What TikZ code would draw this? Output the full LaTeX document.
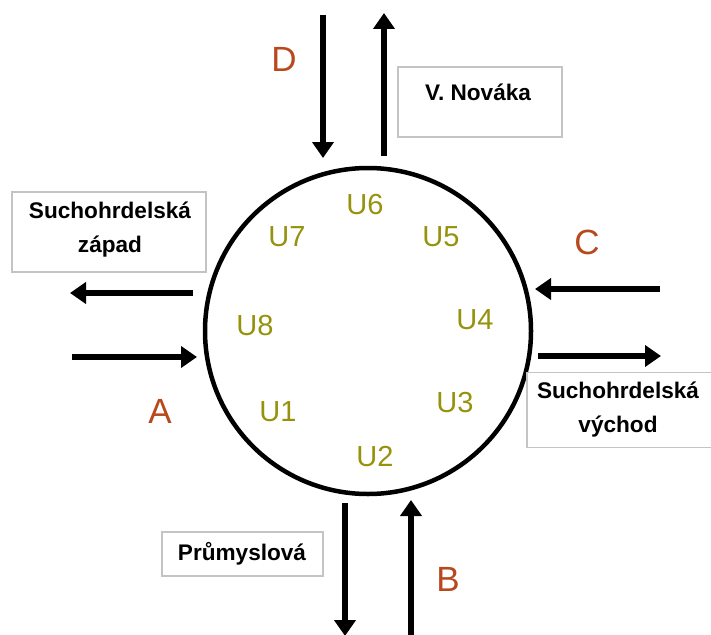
\documentclass[tikz,border=0pt]{standalone}
\usepackage{fontspec}
\setmainfont{Liberation Sans}
\usetikzlibrary{arrows.meta}
\definecolor{lettercol}{RGB}{184,72,30}
\definecolor{ucol}{RGB}{150,146,12}
\definecolor{boxcol}{RGB}{196,196,196}
\begin{document}
\begin{tikzpicture}[x=1pt,y=-1pt,
  arr/.style={line width=6.5pt,-{Triangle[width=21pt,length=16pt]}},
  box/.style={draw=boxcol,line width=1.3pt,inner sep=0pt,rectangle},
  lbl/.style={font=\bfseries\fontsize{22.6}{34}\selectfont,align=center,inner sep=0pt},
  uname/.style={text=ucol,font=\fontsize{29}{29}\selectfont,inner sep=0pt},
  letter/.style={text=lettercol,font=\fontsize{35}{35}\selectfont,inner sep=0pt}]
\useasboundingbox (0,0) rectangle (711,634);
% roundabout
\node[circle,draw,line width=4.5pt,minimum size=326pt,inner sep=0pt] (ring) at (368,331) {};
% U labels
\node[uname] (u6) at (365,205) {U6};
\node[uname] (u7) at (287,237) {U7};
\node[uname] (u5) at (441,237) {U5};
\node[uname] (u8) at (255,326) {U8};
\node[uname] (u4) at (475,320) {U4};
\node[uname] (u1) at (278,412) {U1};
\node[uname] (u3) at (455,403) {U3};
\node[uname] (u2) at (375,457) {U2};
% letters
\node[letter] (D) at (284,59) {D};
\node[letter] (C) at (587,242) {C};
\node[letter] (A) at (160,411) {A};
\node[letter] (B) at (448,579) {B};
% boxes
\node[box,minimum width=164pt,minimum height=70pt] (bN) at (480,102) {};
\node[lbl] (tN) at (478,92) {V. Nováka};
\node[box,minimum width=194pt,minimum height=80pt] (bZ) at (109,232) {};
\node[lbl] (tZ) at (110,230) {Suchohrdelská\\západ};
\node[box,minimum width=190pt,minimum height=75pt] (bV) at (622,410) {};
\node[lbl] (tV) at (618,410) {Suchohrdelská\\východ};
\node[box,minimum width=161pt,minimum height=44pt] (bP) at (242.5,554) {};
\node[lbl] (tP) at (242,554) {Průmyslová};
% arrow end points
\coordinate (d1) at (323,15);  \coordinate (d2) at (323,158);
\coordinate (n1) at (384,156); \coordinate (n2) at (384,13);
\coordinate (z1) at (193,293); \coordinate (z2) at (70,293);
\coordinate (a1) at (72,357);  \coordinate (a2) at (197,357);
\coordinate (c1) at (660,289); \coordinate (c2) at (535,289);
\coordinate (v1) at (538,356); \coordinate (v2) at (661,356);
\coordinate (p1) at (345,503); \coordinate (p2) at (345,636);
\coordinate (b1) at (411,636); \coordinate (b2) at (411,500);
\draw[arr] (d1) -- (d2);
\draw[arr] (n1) -- (n2);
\draw[arr] (z1) -- (z2);
\draw[arr] (a1) -- (a2);
\draw[arr] (c1) -- (c2);
\draw[arr] (v1) -- (v2);
\draw[arr] (p1) -- (p2);
\draw[arr] (b1) -- (b2);
\end{tikzpicture}
\end{document}
